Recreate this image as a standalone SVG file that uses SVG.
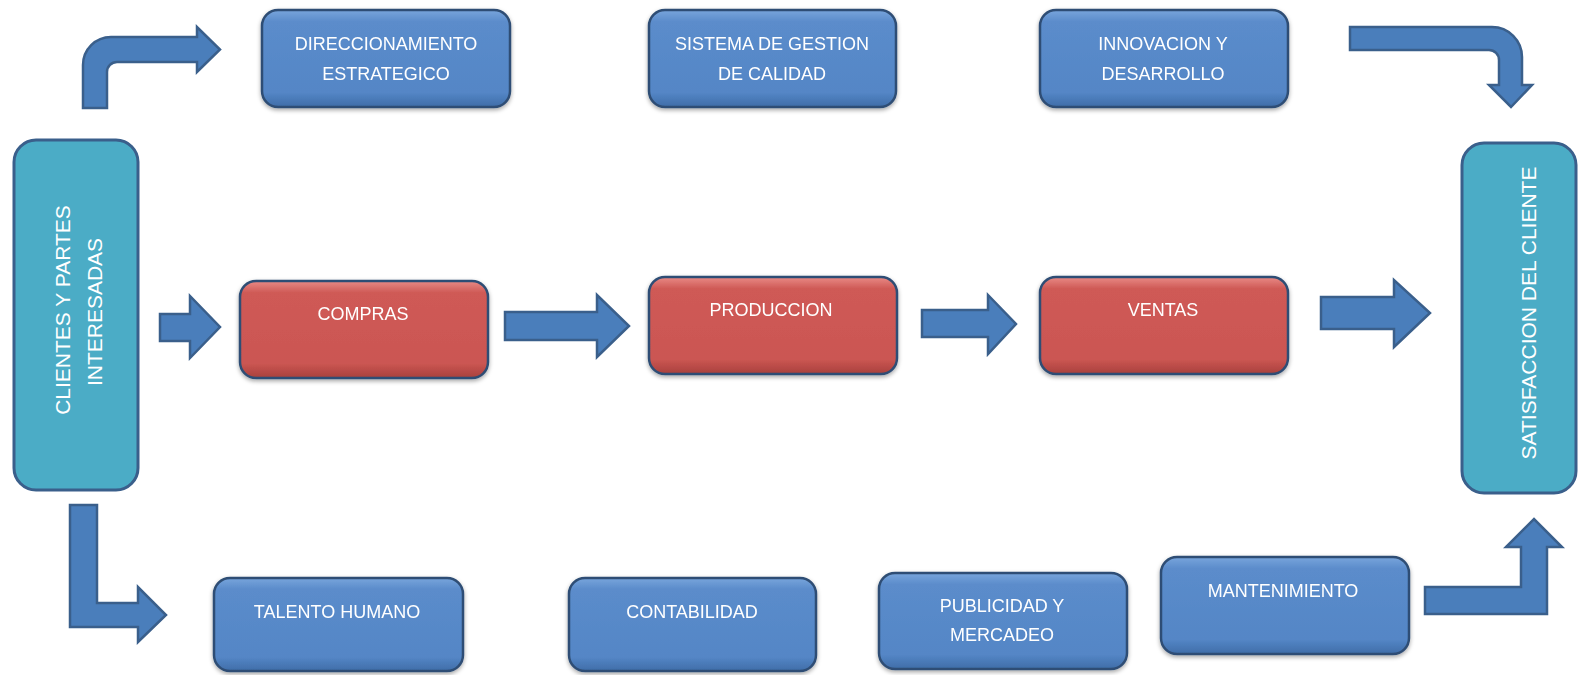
<svg xmlns="http://www.w3.org/2000/svg" width="1578" height="675" viewBox="0 0 1578 675">
<style>
.blue{fill:url(#gBlue);stroke:#2F4E74;stroke-width:2.5}
.red{fill:url(#gRed);stroke:#2F4E74;stroke-width:2.5}
.teal{fill:#4BACC6;stroke:#3A5F8B;stroke-width:3}
.arr{fill:#4A7EBB;stroke:#3A5F8B;stroke-width:2.5;stroke-linejoin:miter}
.t{font-family:"Liberation Sans",Arial,sans-serif;font-size:18px;fill:#FFFFFF;text-anchor:middle}
.tv{font-family:"Liberation Sans",Arial,sans-serif;font-size:21px;fill:#FFFFFF;text-anchor:middle}
</style>
<defs>
<linearGradient id="gBlue" x1="0" y1="0" x2="0" y2="1">
<stop offset="0" stop-color="#78A5DC"/>
<stop offset="0.12" stop-color="#5B8CCB"/>
<stop offset="0.85" stop-color="#5486C6"/>
<stop offset="1" stop-color="#3F6DA8"/>
</linearGradient>
<linearGradient id="gRed" x1="0" y1="0" x2="0" y2="1">
<stop offset="0" stop-color="#E98A86"/>
<stop offset="0.12" stop-color="#CF5A56"/>
<stop offset="0.85" stop-color="#CB5652"/>
<stop offset="1" stop-color="#A8403D"/>
</linearGradient>
<filter id="sh" x="-10%" y="-10%" width="120%" height="130%">
<feDropShadow dx="0" dy="2" stdDeviation="2" flood-color="#000" flood-opacity="0.35"/>
</filter>
</defs>
<g id="connectors">
<path class="arr" d="M83,108 V65 A28,28 0 0 1 111,37 H197 V27 L220,49.5 L197,72 V62 H117 A10,10 0 0 0 107,72 V108 Z"/>
<path class="arr" d="M1350,27 H1492 A30,30 0 0 1 1522,57 V85 H1532 L1511,107 L1489,85 H1499 V60 A10,10 0 0 0 1489,50 H1350 Z"/>
<path class="arr" d="M160,314 H190 V296 L220,327 L190,358 V341 H160 Z"/>
<path class="arr" d="M505,312 H597 V295 L629,326 L597,357 V340 H505 Z"/>
<path class="arr" d="M922,310 H988 V295 L1016,324 L988,354 V337 H922 Z"/>
<path class="arr" d="M1321,297 H1394 V280 L1430,313 L1394,347 V329 H1321 Z"/>
<path class="arr" d="M70,505 H97 V603 H138 V587 L166,615 L138,642 V627 H70 Z"/>
<path class="arr" d="M1425,587 H1521 V547 H1506 L1534,519 L1562,547 H1547 V614 H1425 Z"/>
</g>
<g id="clientes">
<rect class="teal" x="14" y="140" width="124" height="350" rx="22"/>
<text class="tv" transform="translate(70,310) rotate(-90)">CLIENTES Y PARTES</text>
<text class="tv" transform="translate(102,312) rotate(-90)">INTERESADAS</text>
</g>
<g id="satisfaccion">
<rect class="teal" x="1462" y="143" width="114" height="350" rx="22"/>
<text class="tv" transform="translate(1536,313) rotate(-90)">SATISFACCION DEL CLIENTE</text>
</g>
<g id="direccionamiento" filter="url(#sh)">
<rect class="blue" x="262" y="10" width="248" height="97" rx="16"/>
<text class="t" x="386" y="50">DIRECCIONAMIENTO</text>
<text class="t" x="386" y="80">ESTRATEGICO</text>
</g>
<g id="sistema" filter="url(#sh)">
<rect class="blue" x="649" y="10" width="247" height="97" rx="16"/>
<text class="t" x="772" y="50">SISTEMA DE GESTION</text>
<text class="t" x="772" y="80">DE CALIDAD</text>
</g>
<g id="innovacion" filter="url(#sh)">
<rect class="blue" x="1040" y="10" width="248" height="97" rx="16"/>
<text class="t" x="1163" y="50">INNOVACION Y</text>
<text class="t" x="1163" y="80">DESARROLLO</text>
</g>
<g id="compras" filter="url(#sh)">
<rect class="red" x="240" y="281" width="248" height="97" rx="16"/>
<text class="t" x="363" y="320">COMPRAS</text>
</g>
<g id="produccion" filter="url(#sh)">
<rect class="red" x="649" y="277" width="248" height="97" rx="16"/>
<text class="t" x="771" y="316">PRODUCCION</text>
</g>
<g id="ventas" filter="url(#sh)">
<rect class="red" x="1040" y="277" width="248" height="97" rx="16"/>
<text class="t" x="1163" y="316">VENTAS</text>
</g>
<g id="talento" filter="url(#sh)">
<rect class="blue" x="214" y="578" width="249" height="93" rx="16"/>
<text class="t" x="337" y="618">TALENTO HUMANO</text>
</g>
<g id="contabilidad" filter="url(#sh)">
<rect class="blue" x="569" y="578" width="247" height="93" rx="16"/>
<text class="t" x="692" y="618">CONTABILIDAD</text>
</g>
<g id="publicidad" filter="url(#sh)">
<rect class="blue" x="879" y="573" width="248" height="96" rx="16"/>
<text class="t" x="1002" y="612">PUBLICIDAD Y</text>
<text class="t" x="1002" y="641">MERCADEO</text>
</g>
<g id="mantenimiento" filter="url(#sh)">
<rect class="blue" x="1161" y="557" width="248" height="97" rx="16"/>
<text class="t" x="1283" y="597">MANTENIMIENTO</text>
</g>
</svg>
